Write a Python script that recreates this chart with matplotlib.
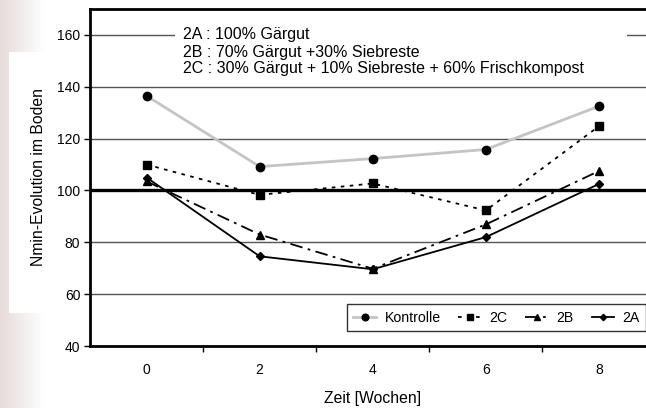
import numpy as np
import matplotlib
matplotlib.use("Agg")
import matplotlib.pyplot as plt
from matplotlib.patches import Rectangle

weeks = ["0", "2", "4", "6", "8"]
kontrolle = [136.5, 109.2, 112.3, 115.8, 132.5]
s2c = [110.0, 98.3, 102.7, 92.3, 124.8]
s2b = [103.5, 83.0, 69.8, 86.9, 107.5]
s2a = [105.0, 74.6, 69.6, 82.0, 102.5]
yticks = [40, 60, 80, 100, 120, 140, 160]
info_lines = ["2A : 100% Gärgut",
              "2B : 70% Gärgut +30% Siebreste",
              "2C : 30% Gärgut + 10% Siebreste + 60% Frischkompost"]

plt.rcParams['font.family'] = ['Liberation Sans', 'DejaVu Sans']

W, H = 646, 408
fig = plt.figure(figsize=(W / 100, H / 100), dpi=100)

# background gradient strip on the left
bg = fig.add_axes([0, 0, 45 / W, 1], zorder=-5)
grad = np.linspace(0, 1, 100)[None, :]
c0 = np.array([0.90, 0.86, 0.855])
c1 = np.array([1.0, 1.0, 1.0])
img = c0[None, None, :] * (1 - grad[..., None]) + c1[None, None, :] * grad[..., None]
bg.imshow(img, aspect='auto', extent=[0, 1, 0, 1])
bg.set_axis_off()
fig.patches.append(Rectangle((9 / W, (H - 313) / H), 60 / W, (313 - 52) / H,
                             transform=fig.transFigure, facecolor='white',
                             edgecolor='none', zorder=-4))

left, right, top, bottom = 90, 655.5, 9, 346
ax = fig.add_axes([left / W, (H - bottom) / H, (right - left) / W, (bottom - top) / H])
x = np.arange(len(weeks))
ax.set_xlim(-0.5, len(weeks) - 0.5)
ax.set_ylim(40, 170)

for v in yticks[1:]:
    if v == 100:
        continue
    ax.axhline(v, color='#555555', lw=1.0, zorder=1)
ax.axhline(100, color='black', lw=2.4, zorder=2)

ax.plot(x, kontrolle, color='#c4c4c4', lw=2.0, marker='o', ms=6,
        mfc='black', mec='black', label='Kontrolle', zorder=4)
ax.plot(x, s2c, color='black', lw=1.3, ls=(0, (2, 3)), marker='s', ms=5.5,
        mfc='black', mec='black', label='2C', zorder=5)
ax.plot(x, s2b, color='black', lw=1.3, ls=(0, (7, 3, 1.5, 3)), marker='^', ms=6,
        mfc='black', mec='black', label='2B', zorder=5)
ax.plot(x, s2a, color='black', lw=1.3, ls='-', marker='D', ms=4,
        mfc='black', mec='black', label='2A', zorder=6)

ax.set_yticks(yticks)
ax.set_xticks(x)
ax.set_xticklabels(weeks)
ax.set_xticks(np.arange(len(weeks) - 1) + 0.5, minor=True)
ax.tick_params(axis='x', which='major', length=0, pad=12, labelsize=10)
ax.tick_params(axis='x', which='minor', length=4, width=1, direction='out')
ax.tick_params(axis='y', length=4, width=1, labelsize=10, pad=3)

for s in ['left', 'bottom', 'top']:
    ax.spines[s].set_linewidth(2)
ax.spines['right'].set_visible(False)

ax.set_ylabel("Nmin-Evolution im Boden", fontsize=11.3, labelpad=8)
ax.set_xlabel("Zeit [Wochen]", fontsize=11.3, labelpad=10)

# white box behind the info text, covering the 160 gridline
def fx(px):
    return (px - left) / (right - left)

def fy(py):
    return 1 - (py - top) / (bottom - top)

ax.add_patch(Rectangle((fx(175), fy(78)), fx(627) - fx(175), fy(26) - fy(78),
                       transform=ax.transAxes, facecolor='white', edgecolor='none', zorder=3))
for i, line in enumerate(info_lines):
    ax.text(fx(183), fy(35 + 17 * i), line, transform=ax.transAxes,
            fontsize=11.5, va='center', ha='left', zorder=7)

leg = ax.legend(ncol=4, loc='lower left', bbox_to_anchor=(fx(347), fy(331)),
                fontsize=10.2, frameon=True, fancybox=False, edgecolor='black',
                handlelength=1.6, handletextpad=0.6, columnspacing=1.25, borderpad=0.45,
                borderaxespad=0, markerscale=0.8)
leg.get_frame().set_linewidth(1)
leg.set_zorder(8)

fig.savefig("out.png", dpi=100)
